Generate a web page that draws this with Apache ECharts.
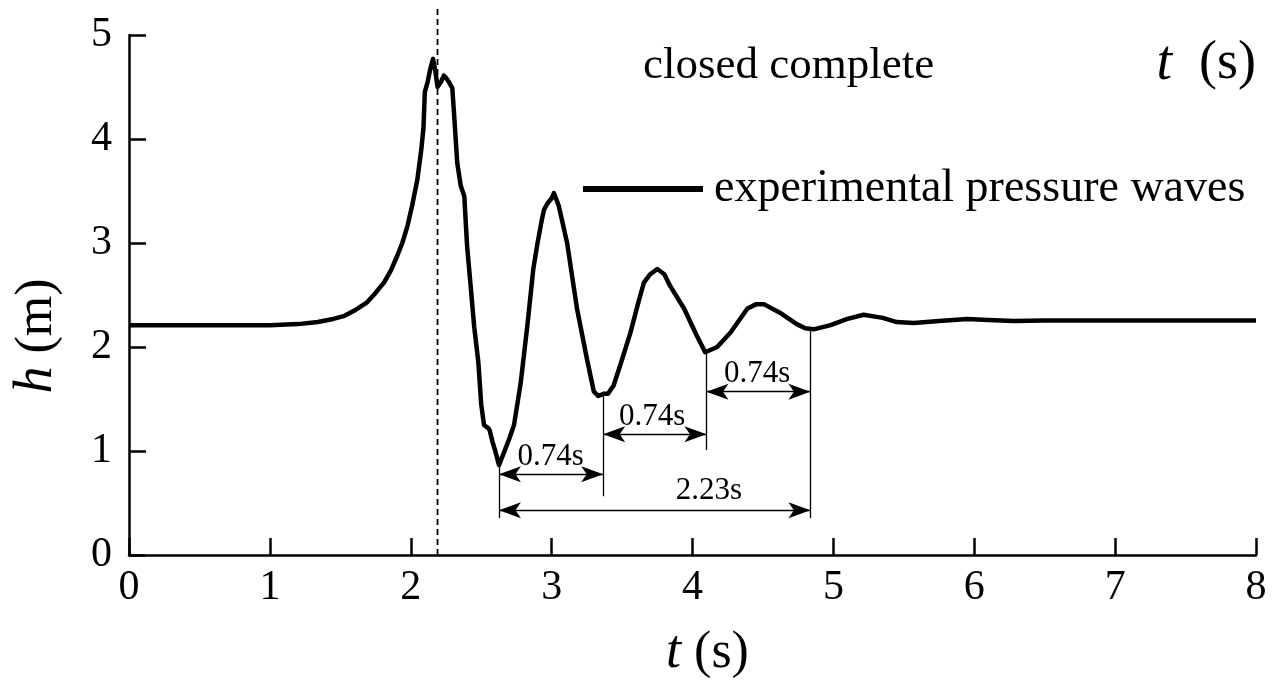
<!DOCTYPE html>
<html>
<head>
<meta charset="utf-8">
<script src="https://cdn.jsdelivr.net/npm/echarts@6/dist/echarts.min.js"></script>
<style>
  html, body { margin: 0; padding: 0; background: #fff; }
  #chart { width: 1272px; height: 688px; }
</style>
</head>
<body>
<div id="chart"></div>
<script>
// measured pressure head h (m) against time t (s)
const timeS = [0, 0.2, 0.4, 0.6, 0.8, 1.0, 1.2, 1.34, 1.45, 1.53, 1.6, 1.69, 1.75, 1.81, 1.86, 1.905, 1.94, 1.976, 2.01, 2.047,
  2.075, 2.09, 2.1, 2.12, 2.14, 2.158, 2.175, 2.19, 2.2, 2.215, 2.235, 2.25, 2.27, 2.295, 2.307, 2.33, 2.355, 2.38, 2.4, 2.425,
  2.45, 2.48, 2.5, 2.52, 2.55, 2.56, 2.58, 2.6, 2.626, 2.66, 2.7, 2.733, 2.78, 2.828, 2.87, 2.9, 2.93, 2.946, 2.97, 3.0,
  3.016, 3.05, 3.11, 3.18, 3.25, 3.3, 3.33, 3.37, 3.4, 3.44, 3.5, 3.56, 3.61, 3.655, 3.7, 3.75, 3.8, 3.84, 3.94, 4.03,
  4.09, 4.175, 4.27, 4.39, 4.45, 4.51, 4.62, 4.74, 4.8, 4.86, 4.98, 5.1, 5.215, 5.35, 5.45, 5.57, 5.75, 5.95, 6.1, 6.28,
  6.5, 7.0, 7.5, 8.0];
const headM = [2.21, 2.21, 2.21, 2.21, 2.21, 2.21, 2.22, 2.24, 2.27, 2.30, 2.35, 2.43, 2.52, 2.62, 2.74, 2.88, 3.0, 3.16, 3.36, 3.61,
  3.90, 4.10, 4.45, 4.55, 4.68, 4.77, 4.65, 4.50, 4.49, 4.55, 4.61, 4.59, 4.55, 4.49, 4.25, 3.77, 3.55, 3.45, 2.97, 2.59,
  2.20, 1.85, 1.45, 1.25, 1.22, 1.20, 1.09, 1.0, 0.865, 0.98, 1.12, 1.25, 1.65, 2.21, 2.75, 3.0, 3.22, 3.32, 3.38, 3.43,
  3.48, 3.36, 3.0, 2.37, 1.89, 1.57, 1.53, 1.55, 1.55, 1.63, 1.88, 2.14, 2.40, 2.62, 2.70, 2.75, 2.70, 2.59, 2.37, 2.11,
  1.95, 2.0, 2.14, 2.37, 2.41, 2.41, 2.33, 2.22, 2.18, 2.17, 2.21, 2.27, 2.31, 2.28, 2.24, 2.23, 2.25, 2.27, 2.26, 2.25,
  2.255, 2.255, 2.255, 2.255];

// valve closure time (dashed line)
const closeT = 2.19;
const closeTop = 5.26;

// period dimension lines
const dimStart = [2.626, 3.366, 4.099, 2.626];
const dimEnd = [3.366, 4.099, 4.837, 4.837];
const dimLevel = [0.776, 1.16, 1.57, 0.43];
const dimText = ['0.74s', '0.74s', '0.74s', '2.23s'];
const dimTextT = [2.993, 3.714, 4.459, 4.116];
const dimTextH = [0.945, 1.33, 1.745, 0.62];

// extension lines at the troughs
const extT = [2.626, 3.366, 4.099, 4.837];
const extTop = [0.865, 1.57, 1.95, 2.17];
const extBottom = [0.354, 0.565, 1.01, 0.354];

const xTicks = [0, 1, 2, 3, 4, 5, 6, 7, 8];
const yTicks = [0, 1, 2, 3, 4, 5];

const serif = 'Liberation Serif';
const chart = echarts.init(document.getElementById('chart'));

const curve = timeS.map((t, i) => [t, headM[i]]);

const markData = [];
extT.forEach((t, i) => {
  markData.push([
    { coord: [t, extTop[i]], symbol: 'none' },
    { coord: [t, extBottom[i]], symbol: 'none' }
  ]);
});
dimStart.forEach((t, i) => {
  markData.push([
    { coord: [t, dimLevel[i]], symbol: 'arrow' },
    { coord: [dimEnd[i], dimLevel[i]], symbol: 'arrow' }
  ]);
});

const option = {
  animation: false,
  backgroundColor: '#fff',
  textStyle: { fontFamily: serif, color: '#000' },
  title: {
    text: 'closed complete',
    left: 643,
    top: 44,
    padding: 0,
    textStyle: { fontFamily: serif, fontSize: 45, fontWeight: 'normal', color: '#000' }
  },
  legend: {
    data: ['experimental pressure waves'],
    left: 583,
    top: 166,
    padding: 0,
    icon: 'rect',
    itemWidth: 120,
    itemHeight: 6,
    textStyle: { fontFamily: serif, fontSize: 46, color: '#000', padding: [0, 0, 0, 6] }
  },
  graphic: [{
    type: 'text',
    right: 16,
    top: 36,
    style: {
      text: '{i|t}  (s)',
      font: '54px ' + serif,
      fill: '#000',
      rich: { i: { fontFamily: serif, fontStyle: 'italic', fontSize: 56 } }
    }
  }],
  grid: { left: 129, right: 16, top: 35, bottom: 133 },
  xAxis: {
    type: 'value',
    min: 0,
    max: 8,
    interval: 1,
    name: '{i|t} (s)',
    nameLocation: 'middle',
    nameGap: 98,
    nameTextStyle: {
      fontFamily: serif, fontSize: 52, color: '#000', verticalAlign: 'middle', padding: [0, 0, 0, 30],
      rich: { i: { fontFamily: serif, fontStyle: 'italic', fontSize: 54 } }
    },
    axisLine: { show: true, onZero: false, lineStyle: { color: '#000', width: 2.5 } },
    axisTick: { inside: true, length: 17, lineStyle: { color: '#000', width: 2.5 } },
    axisLabel: {
      fontFamily: serif, fontSize: 42, color: '#000', margin: 12,
      formatter: v => xTicks.includes(v) ? String(v) : ''
    },
    splitLine: { show: false }
  },
  yAxis: {
    type: 'value',
    min: 0,
    max: 5,
    interval: 1,
    name: '{i|h} (m)',
    nameLocation: 'middle',
    nameGap: 92,
    nameTextStyle: {
      fontFamily: serif, fontSize: 52, color: '#000', verticalAlign: 'middle', padding: [0, 82, 0, 0],
      rich: { i: { fontFamily: serif, fontStyle: 'italic', fontSize: 54 } }
    },
    axisLine: { show: true, onZero: false, lineStyle: { color: '#000', width: 2.5 } },
    axisTick: { inside: true, length: 17, lineStyle: { color: '#000', width: 2.5 } },
    axisLabel: {
      fontFamily: serif, fontSize: 42, color: '#000', margin: 17,
      formatter: v => yTicks.includes(v) ? String(v) : ''
    },
    splitLine: { show: false }
  },
  series: [
    {
      name: 'closure',
      type: 'line',
      data: [[closeT, 0], [closeT, closeTop]],
      clip: false,
      showSymbol: false,
      silent: true,
      lineStyle: { color: '#000', width: 1.8, type: [6, 4] },
      z: 1
    },
    {
      name: 'experimental pressure waves',
      type: 'line',
      data: curve,
      showSymbol: false,
      color: '#000',
      lineStyle: { color: '#000', width: 4.5, join: 'round' },
      z: 3,
      markLine: {
        silent: true,
        symbolSize: [12, 22],
        label: { show: false },
        lineStyle: { color: '#000', width: 1.3, type: 'solid' },
        data: markData
      }
    },
    {
      name: 'dimension labels',
      type: 'scatter',
      symbolSize: 0,
      silent: true,
      itemStyle: { opacity: 1, color: '#000' },
      data: dimText.map((s, i) => ({ name: s, value: [dimTextT[i], dimTextH[i]] })),
      label: {
        show: true,
        position: 'inside',
        formatter: p => p.name,
        fontFamily: serif,
        fontSize: 31,
        color: '#000',
        textBorderWidth: 0
      }
    }
  ]
};

chart.setOption(option);
</script>
</body>
</html>
